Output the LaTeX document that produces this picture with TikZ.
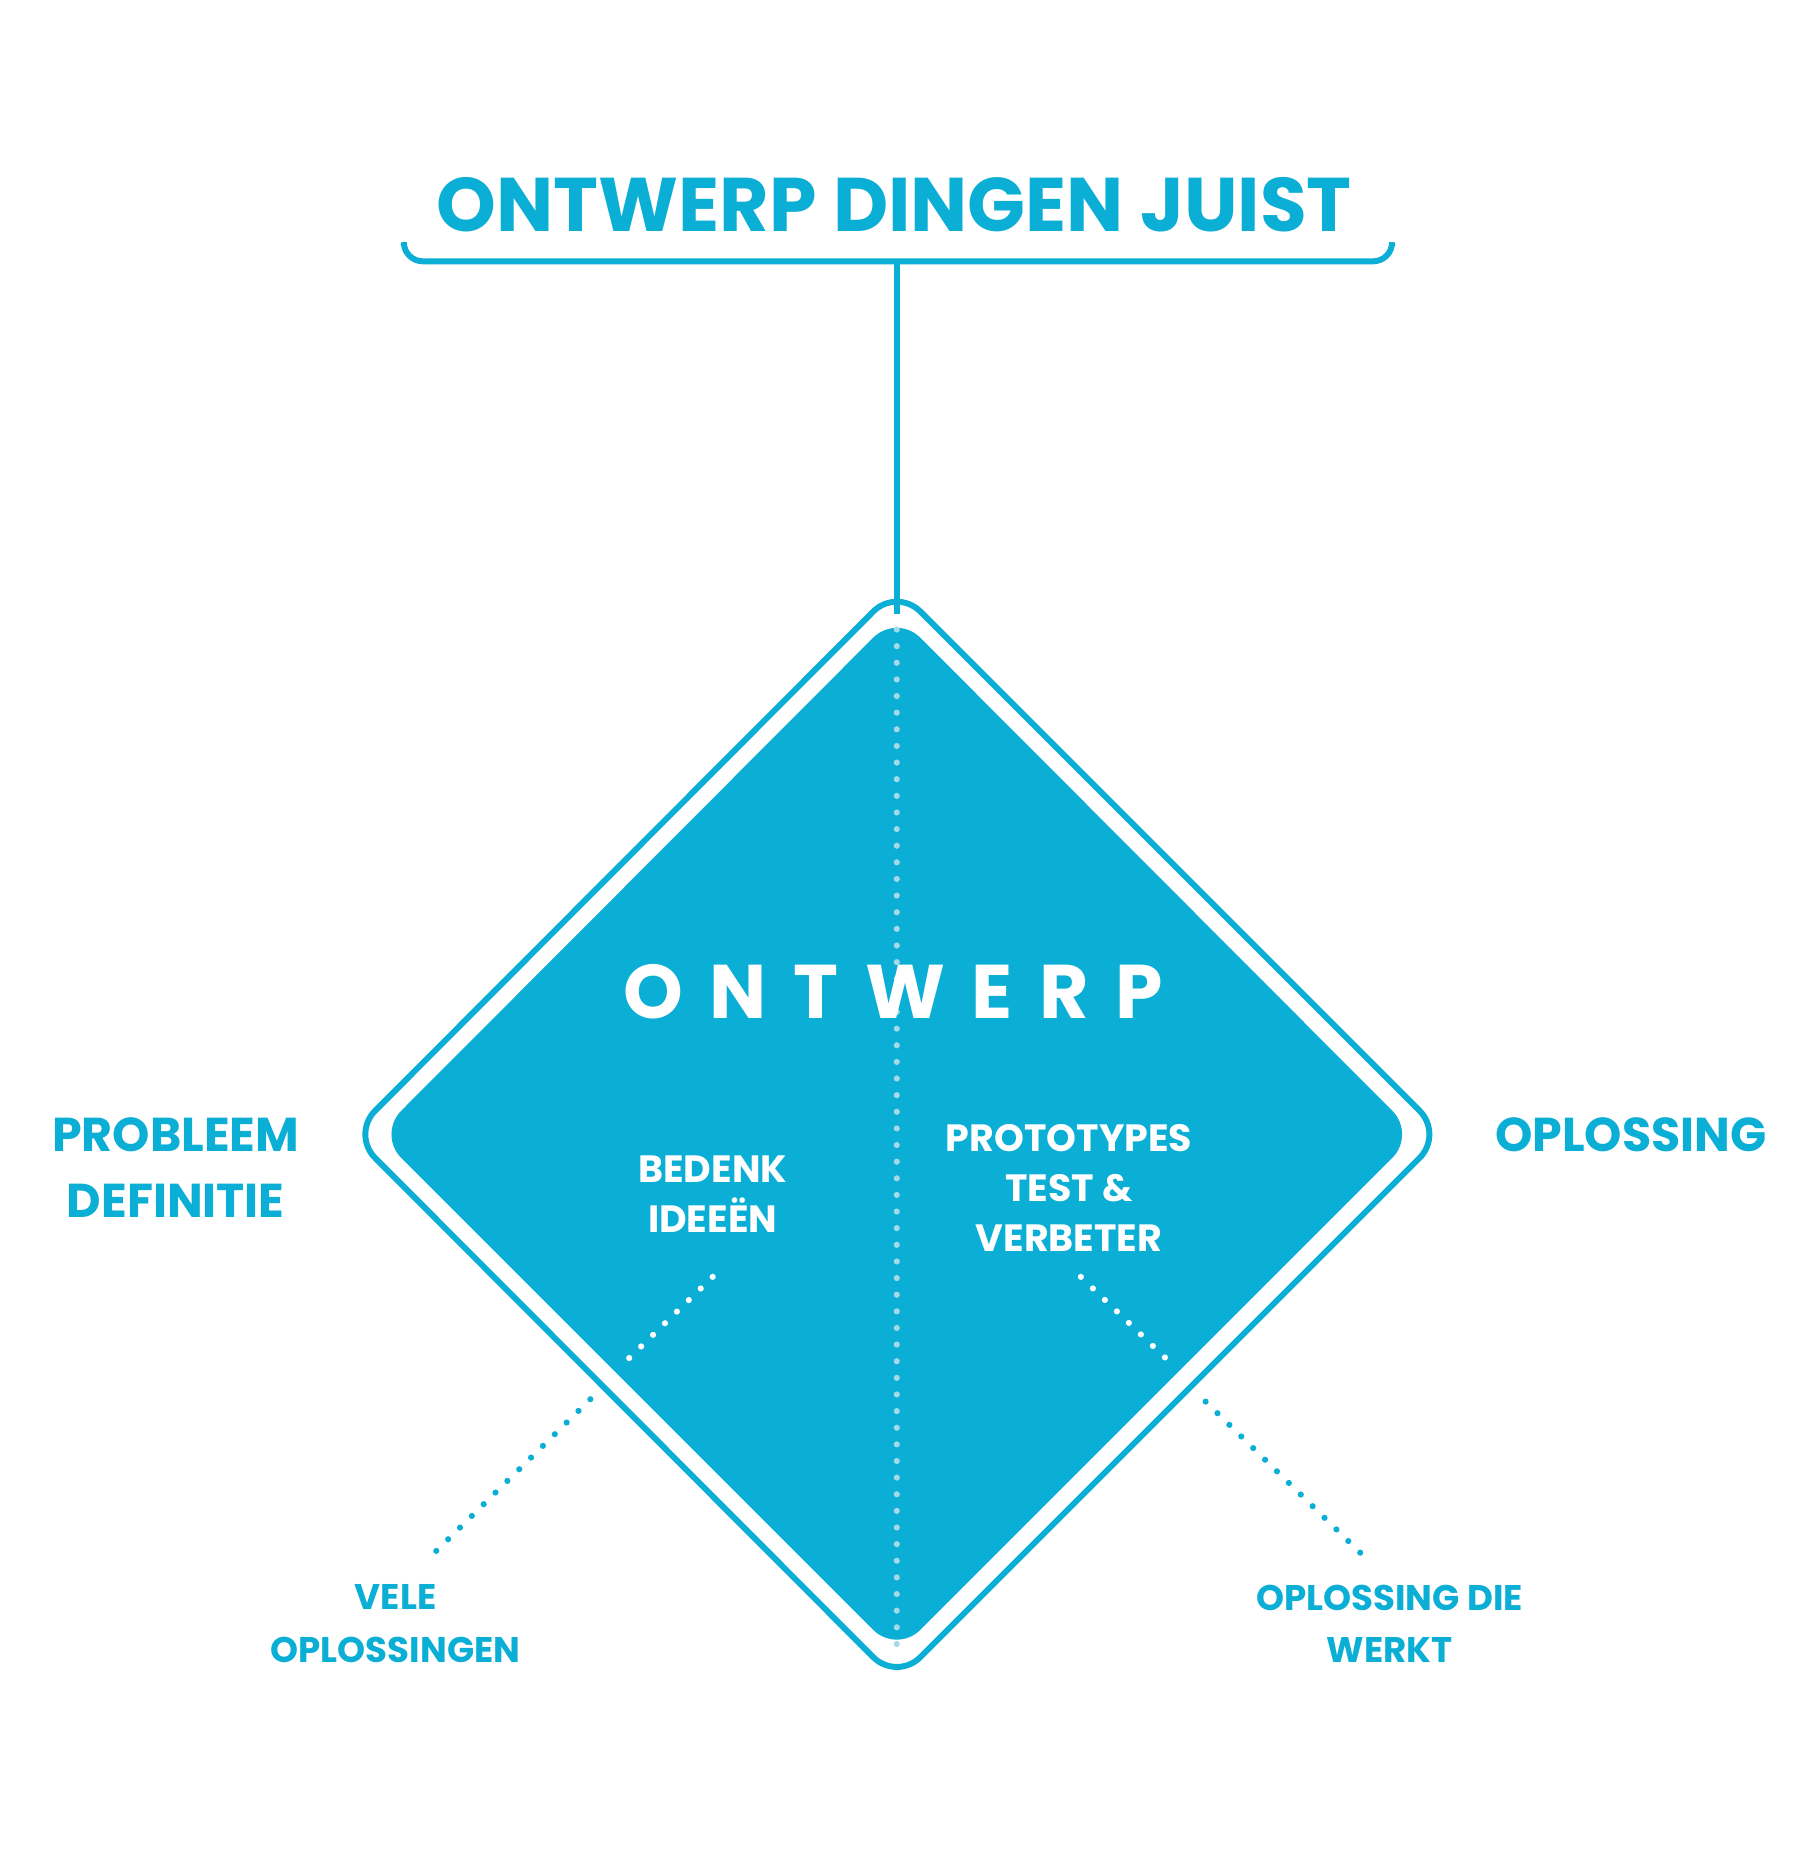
\documentclass[tikz,border=0pt]{standalone}
\usepackage{fontspec}
\setmainfont{Poppins}[BoldFont={* Bold}]
\definecolor{cy}{HTML}{0BAED4}
\definecolor{ld}{HTML}{A6D9E8}
\begin{document}
\begin{tikzpicture}[x=0.5pt,y=-0.5pt,
  ln/.style={draw=cy,line width=2.5pt,rounded corners=8pt},
  dots/.style={line width=2.6pt,line cap=round,dash pattern=on 0pt off 7pt},
  lab/.style={text=cy,font=\bfseries,align=center,inner sep=0pt},
  wlab/.style={text=white,font=\bfseries\fontsize{16}{21}\selectfont,align=center,inner sep=0pt}]
\useasboundingbox (0,0) rectangle (1530,1571);
% bracket
\draw[ln] (340,207) -- (340,220) -- (1172,220) -- (1172,207);
\coordinate (bt) at (755,220);
% outer diamond
\draw[ln,rounded corners=14pt] (755,495) -- (1215,955) -- (755,1415) -- (296,955) -- cycle;
% inner diamond
\fill[cy,rounded corners=14pt] (755,517) -- (1192,955) -- (755,1392) -- (318,955) -- cycle;
\coordinate (dt) at (755,517);
\draw[cy,line width=2.5pt] (bt) -- (dt);
\coordinate (d1) at (755,530); \coordinate (d2) at (755,1385);
\draw[ld,dots] (d1) -- (d2);
\node[lab,font=\bfseries\fontsize{32}{38}\selectfont] (title) at (753,172) {ONTWERP DINGEN JUIST};
\node[text=white,font=\bfseries\fontsize{32}{38}\selectfont\addfontfeatures{LetterSpace=35},inner sep=0pt] (ont) at (752,835) {ONTWERP};
\node[wlab] (bed) at (600,1005) {BEDENK\\IDEEËN};
\node[wlab] (pro) at (900,1000) {PROTOTYPES\\TEST \&\\VERBETER};
\node[lab,font=\bfseries\fontsize{20}{28}\selectfont] (pd) at (148,983) {PROBLEEM\\DEFINITIE};
\node[lab,font=\bfseries\fontsize{20}{28}\selectfont] (op) at (1373,955) {OPLOSSING};
\node[lab,font=\bfseries\fontsize{15}{22}\selectfont] (vo) at (333,1367) {VELE\\OPLOSSINGEN};
\node[lab,font=\bfseries\fontsize{15}{22}\selectfont] (od) at (1170,1367) {OPLOSSING DIE\\WERKT};
\coordinate (a1) at (600,1075); \coordinate (a2) at (528,1145);
\coordinate (a3) at (497,1178); \coordinate (a4) at (366,1307);
\coordinate (b1) at (910,1075); \coordinate (b2) at (983,1145);
\coordinate (b3) at (1015,1180); \coordinate (b4) at (1146,1308);
\draw[white,dots] (a1) -- (a2);
\draw[cy,dots] (a3) -- (a4);
\draw[white,dots] (b1) -- (b2);
\draw[cy,dots] (b3) -- (b4);
\end{tikzpicture}
\end{document}
